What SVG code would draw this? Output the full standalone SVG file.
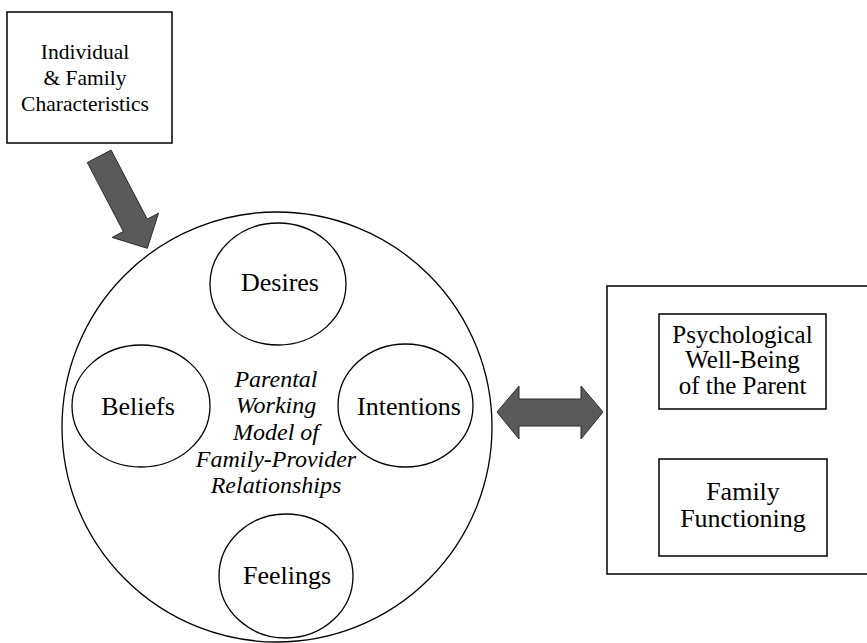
<svg xmlns="http://www.w3.org/2000/svg" width="867" height="643" viewBox="0 0 867 643">
<defs>
<style>
.box{fill:#fff;stroke:#000;stroke-width:1.5}
.ell{fill:none;stroke:#000;stroke-width:1.3}
.t{font-family:'Liberation Serif','Times New Roman',Times,serif;fill:#000;text-anchor:middle}
.it{font-style:italic}
.arrow{fill:#5a5a5a;stroke:#2a2a2a;stroke-width:1}
</style>
</defs>
<rect width="867" height="643" fill="#fff"/>
<g id="characteristics">
<rect class="box" x="7" y="12" width="165" height="131"/>
<text class="t" font-size="21.5" x="85" y="59">Individual</text>
<text class="t" font-size="21.5" x="85" y="85">&amp; Family</text>
<text class="t" font-size="21.5" x="85" y="111">Characteristics</text>
</g>
<g id="working-model">
<circle class="ell" cx="277" cy="427" r="215"/>
<text class="t it" font-size="24" x="276" y="387">Parental</text>
<text class="t it" font-size="24" x="276" y="413">Working</text>
<text class="t it" font-size="24" x="276" y="440">Model of</text>
<text class="t it" font-size="24" x="276" y="467">Family-Provider</text>
<text class="t it" font-size="24" x="276" y="493">Relationships</text>
</g>
<g id="desires">
<ellipse class="ell" cx="278" cy="284" rx="68" ry="61"/>
<text class="t" font-size="26" x="280" y="291">Desires</text>
</g>
<g id="beliefs">
<ellipse class="ell" cx="141" cy="406" rx="69" ry="61"/>
<text class="t" font-size="26" x="138" y="415">Beliefs</text>
</g>
<g id="intentions">
<ellipse class="ell" cx="405.5" cy="405.5" rx="67.5" ry="61.5"/>
<text class="t" font-size="26" x="409" y="415">Intentions</text>
</g>
<g id="feelings">
<ellipse class="ell" cx="286" cy="576" rx="67" ry="62"/>
<text class="t" font-size="26" x="287" y="584">Feelings</text>
</g>
<g id="outcomes">
<rect class="box" x="607" y="286" width="270" height="288"/>
</g>
<g id="wellbeing">
<rect class="box" x="659" y="314" width="167" height="95"/>
<text class="t" font-size="25" x="742.5" y="343">Psychological</text>
<text class="t" font-size="25" x="742.5" y="368">Well-Being</text>
<text class="t" font-size="25" x="742.5" y="394">of the Parent</text>
</g>
<g id="family-functioning">
<rect class="box" x="659" y="459" width="168" height="97"/>
<text class="t" font-size="26" x="743" y="500">Family</text>
<text class="t" font-size="26" x="743" y="527">Functioning</text>
</g>
<g id="connectors">
<polygon class="arrow" points="111.1,150.1 147.2,219.1 158.5,213.2 147.3,248.3 112.1,237.4 123.4,231.5 87.3,162.5"/>
<polygon class="arrow" points="497,412 519,386 519,399 581,399 581,386 603,412 581,439 581,426 519,426 519,439"/>
</g>
</svg>
